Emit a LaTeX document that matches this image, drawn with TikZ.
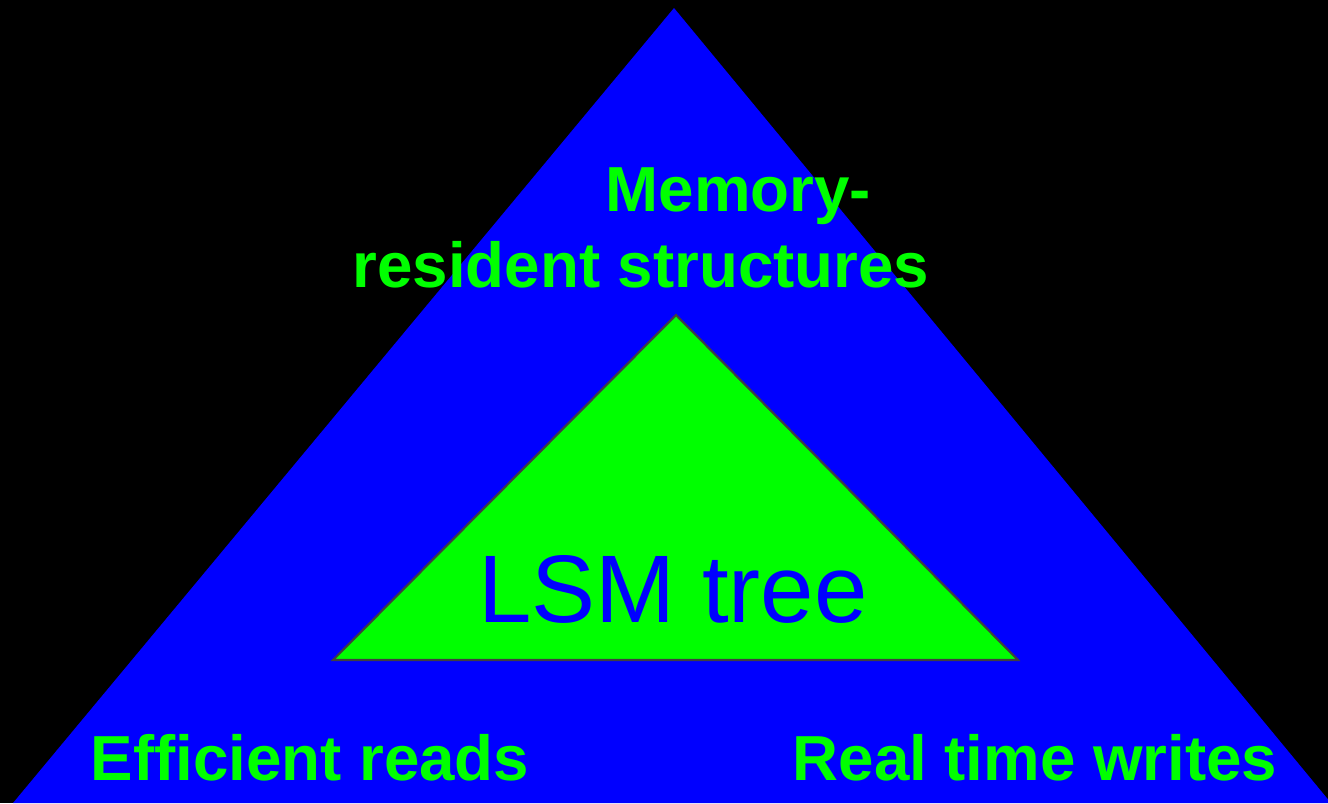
\documentclass[tikz,border=0pt]{standalone}
\usepackage{fontspec}
\setmainfont{Liberation Sans}
\usetikzlibrary{positioning}
\definecolor{lsmblue}{RGB}{0,0,255}
\definecolor{lsmgreen}{RGB}{0,255,0}
\definecolor{lsmedge}{RGB}{64,64,64}
\begin{document}
\begin{tikzpicture}[x=0.01cm,y=-0.01cm,
	lbl/.style={text=lsmgreen,font=\bfseries\fontsize{18.1}{21.6}\selectfont,inner sep=0pt,anchor=base west}]
	\useasboundingbox (0,0) rectangle (1328,803);%khung hinh
	\clip (0,0) rectangle (1328,803);
	\fill[black] (0,0) rectangle (1328,803);%nen den
	\path (674,8)coordinate(T) (13,803)coordinate(L) (1331,803)coordinate(R)
	(676,315)coordinate(t) (333,660)coordinate(l) (1018,660)coordinate(r);
	\fill[lsmblue] (T)--(L)--(R)--cycle;%tam giac ngoai
	\draw[fill=lsmgreen,draw=lsmedge,line width=.6pt,line join=miter] (t)--(l)--(r)--cycle;%tam giac trong
	\node[text=lsmblue,font=\fontsize{27.3}{32}\selectfont,inner sep=0pt,anchor=base] (lsm) at (673,622) {LSM tree};
	\node[lbl] (mem1) at (605,211) {Memory-};
	\node[lbl] (mem2) at (352,287) {resident structures};
	\node[lbl] (reads) at (90,780) {Efficient reads};
	\node[lbl] (writes) at (792,780) {Real time writes};
\end{tikzpicture}
\end{document}
